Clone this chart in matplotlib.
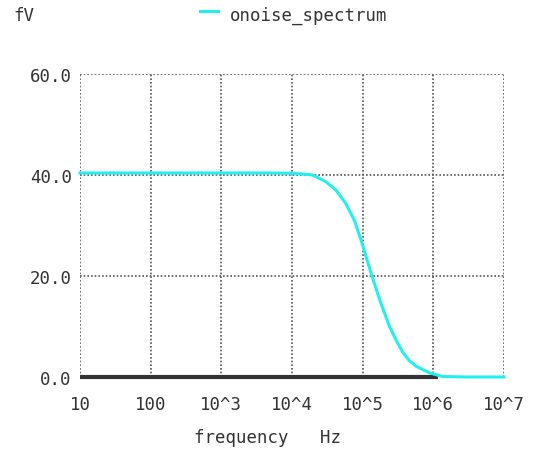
import numpy as np
import matplotlib
matplotlib.use("Agg")
import matplotlib.pyplot as plt

# onoise spectrum (frequency in Hz, value in fV)
freq = [10, 100, 1e3, 5e3, 1e4, 1.4e4, 1.95e4, 3.0e4, 4.2e4, 5.75e4, 7.6e4,
        9.5e4, 1.32e5, 1.74e5, 2.4e5, 3.0e5, 3.7e5, 4.6e5, 5.75e5, 8.9e5,
        1.35e6, 3e6, 1e7]
onoise = [40.4, 40.4, 40.4, 40.4, 40.35, 40.2, 40.0, 38.7, 37.0, 34.4, 31.1,
          27.1, 20.5, 15.3, 10.0, 7.2, 4.9, 3.2, 2.1, 0.8, 0.1, 0.0, 0.0]

# flat reference trace along zero
zero_freq = [10, 1.15e6]
zero_val = [0.0, 0.0]

xticks = [10, 100, 1e3, 1e4, 1e5, 1e6, 1e7]
xtick_labels = ["10", "100", "10^3", "10^4", "10^5", "10^6", "10^7"]
yticks = [0, 20, 40, 60]
ytick_labels = ["0.0", "20.0", "40.0", "60.0"]

mono = "DejaVu Sans Mono"
fs = 12.5
txt = "#333333"

fig = plt.figure(figsize=(5.5, 4.52), dpi=100)
ax = fig.add_axes([80 / 550, 1 - 378 / 452, (504 - 80) / 550, (378 - 75) / 452])

ax.set_xscale("log")
ax.set_xlim(10, 1e7)
ax.set_ylim(0, 60)

ax.plot(zero_freq, zero_val, color="#333333", lw=3, solid_capstyle="butt",
        clip_on=False, zorder=3)
ax.plot(freq, onoise, color="#22f0f0", lw=2.2, clip_on=False, zorder=4)

ax.set_xticks(xticks)
ax.set_xticklabels(xtick_labels, family=mono, fontsize=fs, color=txt)
ax.set_yticks(yticks)
ax.set_yticklabels(ytick_labels, family=mono, fontsize=fs, color=txt)
ax.minorticks_off()
ax.tick_params(axis="x", length=0, pad=13)
ax.tick_params(axis="y", length=0, pad=6)

ax.grid(True, color="#555555", ls=(0, (1, 1.2)), lw=1.2)
for s in ax.spines.values():
    s.set_visible(False)

fig.text(13 / 550, 1 - 16 / 452, "fV", family=mono, fontsize=fs,
         color=txt, va="center")
fig.lines.append(plt.Line2D([200 / 550, 218 / 550], [1 - 12 / 452, 1 - 12 / 452],
                            color="#22f0f0", lw=2.2, transform=fig.transFigure))
fig.text(230 / 550, 1 - 16 / 452, "onoise_spectrum", family=mono, fontsize=fs,
         color=txt, va="center")
fig.text(268 / 550, 1 - 438 / 452, "frequency   Hz", family=mono,
         fontsize=fs, color=txt, ha="center", va="center")

fig.savefig("out.png", dpi=100)
